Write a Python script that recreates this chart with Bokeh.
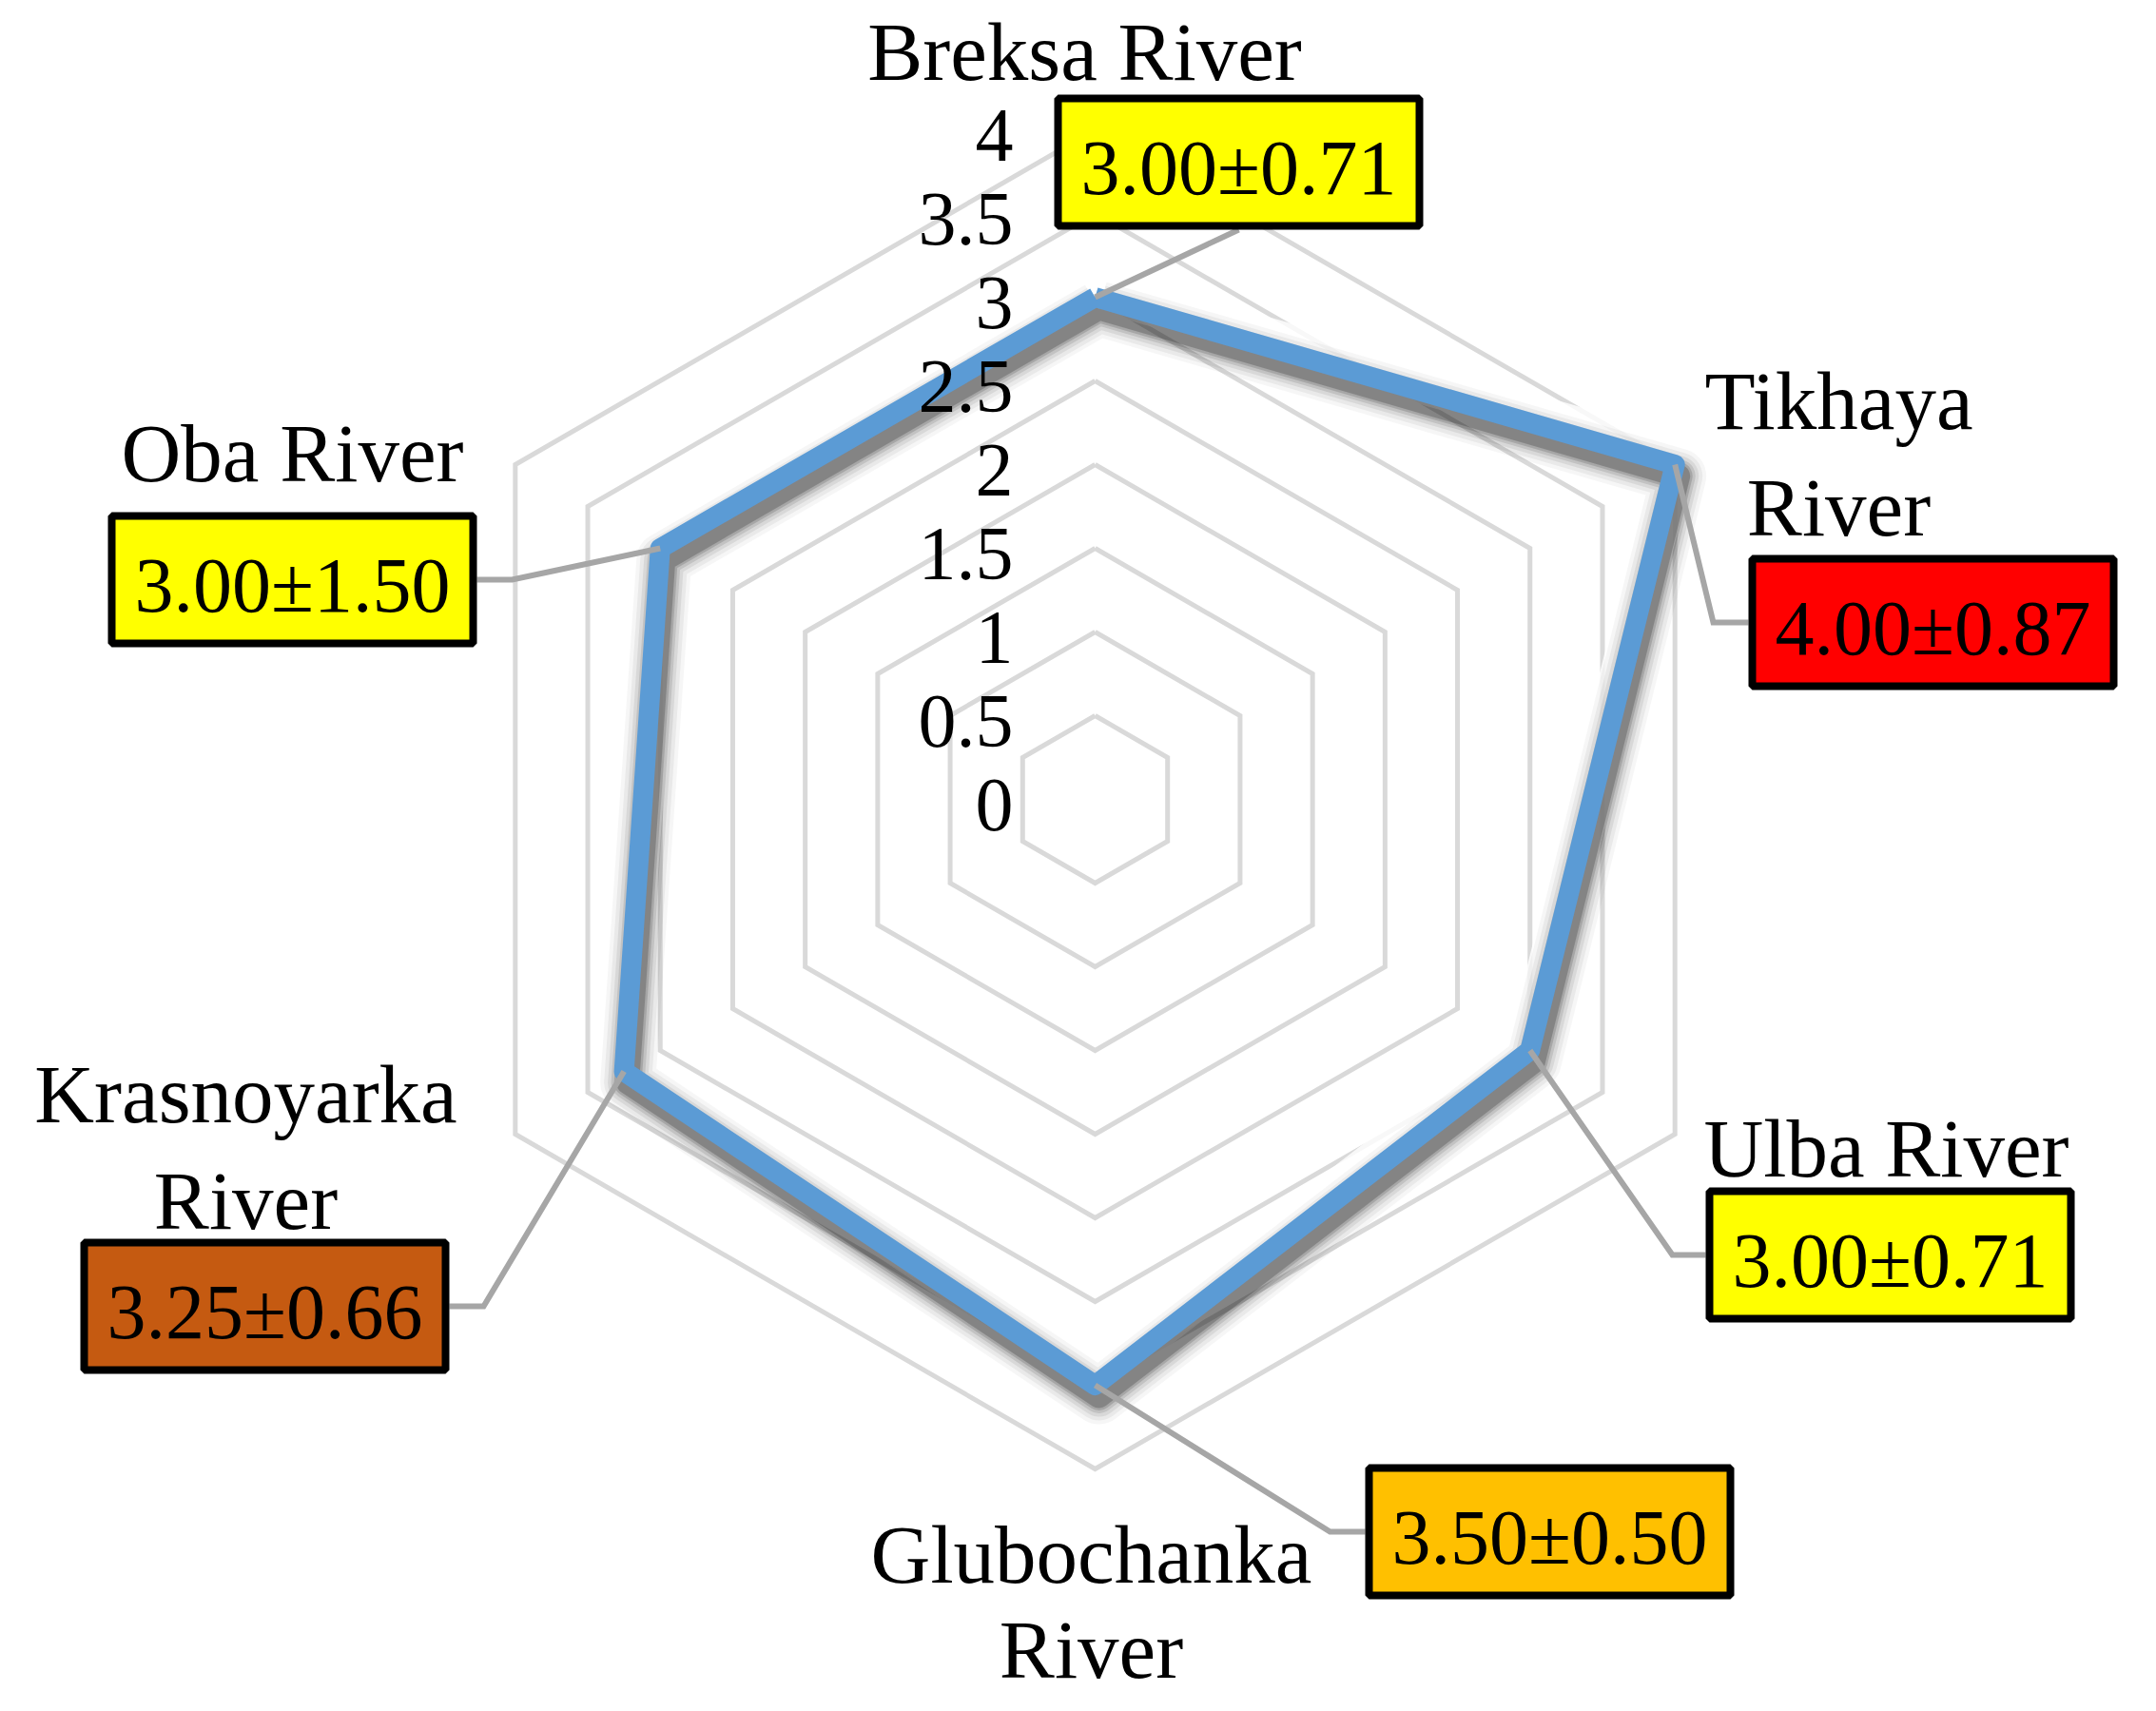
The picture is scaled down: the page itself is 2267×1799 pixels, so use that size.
import math
from bokeh.plotting import figure
from bokeh.models import Range1d
from bokeh.core.properties import value
from bokeh.embed import file_html
from bokeh.resources import INLINE

# ---------------- data ----------------
categories = ["Breksa River", "Tikhaya River", "Ulba River",
              "Glubochanka River", "Krasnoyarka River", "Oba River"]
means = [3.00, 4.00, 3.00, 3.50, 3.25, 3.00]
sds = [0.71, 0.87, 0.71, 0.50, 0.66, 1.50]
box_colors = ["#FFFF00", "#FF0000", "#FFFF00", "#FFC000", "#C55A11", "#FFFF00"]
tick_values = [0, 0.5, 1, 1.5, 2, 2.5, 3, 3.5, 4]
tick_labels = ["0", "0.5", "1", "1.5", "2", "2.5", "3", "3.5", "4"]

# ---------------- layout (screen pixels) ----------------
W, H = 2251, 1783
S = 176.0            # pixels per value unit
CX, CY = 1159, 848   # chart centre on the page
FONT = value("Liberation Serif")
SHIFT = -22          # correction of the renderer's baseline placement

def sx(X):
    return (X - CX) / S

def sy(Y):
    return (CY - Y) / S

layout = [
    dict(lx=1148, lb=84,   step=0,   wrap=False, box=(1310, 178),  bend=None),
    dict(lx=1941, lb=451,  step=112, wrap=True,  box=(2040, 662),  bend=(1809, 662)),
    dict(lx=1991, lb=1237, step=0,   wrap=False, box=(1995, 1327), bend=(1766, 1327)),
    dict(lx=1155, lb=1664, step=100, wrap=True,  box=(1637, 1618), bend=(1406, 1618)),
    dict(lx=266,  lb=1180, step=112, wrap=True,  box=(286, 1381),  bend=(516, 1381)),
    dict(lx=315,  lb=506,  step=0,   wrap=False, box=(315, 617),   bend=(546, 617)),
]
BOX_W, BOX_H, BORDER = 388, 142, 8

p = figure(width=W, height=H,
           x_range=Range1d(sx(8), sx(8 + W)),
           y_range=Range1d(sy(8 + H), sy(8)),
           output_backend="svg", toolbar_location=None, min_border=0,
           x_axis_type=None, y_axis_type=None)
p.grid.visible = False
p.outline_line_color = None
p.background_fill_color = "white"
p.border_fill_color = "white"

n = len(categories)
angles = [math.pi / 2 - 2 * math.pi * i / n for i in range(n)]

# grid hexagons
gx, gy = [], []
for r in tick_values[1:]:
    gx.append([r * math.cos(a) for a in angles + [angles[0]]])
    gy.append([r * math.sin(a) for a in angles + [angles[0]]])
p.multi_line(gx, gy, line_color="#D9D9D9", line_width=5, line_join="miter")

# series polygon
vx = [m * math.cos(a) for m, a in zip(means, angles)]
vy = [m * math.sin(a) for m, a in zip(means, angles)]
px = vx + [vx[0]]
py = vy + [vy[0]]

# soft glow + blurred drop shadow
p.line(px, [y + 9 / S for y in py], line_color="white", line_width=44,
       line_alpha=0.8, line_join="round")
for w, a in [(58, 0.035), (50, 0.05), (42, 0.07), (35, 0.10), (29, 0.14), (24, 0.2)]:
    p.line([x + 4 / S for x in px], [y - 12 / S for y in py], line_color="black",
           line_width=w, line_alpha=a, line_join="round")
p.line(px, py, line_color="#5B9BD5", line_width=21, line_join="round")

# leader lines
for i, L in enumerate(layout):
    bxc, byc = L["box"]
    if L["bend"] is None:
        xs = [vx[i], sx(bxc)]
        ys = [vy[i], sy(byc + BOX_H / 2)]
    else:
        bx, by = L["bend"]
        edge = bxc - BOX_W / 2 if bx < bxc else bxc + BOX_W / 2
        xs = [vx[i], sx(bx), sx(edge)]
        ys = [vy[i], sy(by), sy(by)]
    p.line(xs, ys, line_color="#A6A6A6", line_width=6, line_join="miter")

# tick labels
p.text(x=[sx(1073)] * len(tick_values), y=tick_values, text=tick_labels,
       text_font=FONT, text_font_size="80px", text_align="right",
       text_baseline="alphabetic", y_offset=28 + SHIFT, text_color="black")

# value boxes
p.rect(x=[sx(L["box"][0]) for L in layout], y=[sy(L["box"][1]) for L in layout],
       width=(BOX_W - BORDER) / S, height=(BOX_H - BORDER) / S,
       fill_color=box_colors, line_color="black", line_width=BORDER)
p.text(x=[sx(L["box"][0]) for L in layout], y=[sy(L["box"][1]) for L in layout],
       text=[f"{m:.2f}±{s:.2f}" for m, s in zip(means, sds)],
       text_font=FONT, text_font_size="82px", text_align="center",
       text_baseline="alphabetic", y_offset=28 + SHIFT, text_color="black")

# category labels
lx, ly, lt = [], [], []
for cat, L in zip(categories, layout):
    lines = cat.rsplit(" ", 1) if L["wrap"] else [cat]
    for k, t in enumerate(lines):
        lx.append(sx(L["lx"]))
        ly.append(sy(L["lb"] + k * L["step"]))
        lt.append(t)
p.text(x=lx, y=ly, text=lt, text_font=FONT, text_font_size="87px",
       text_align="center", text_baseline="alphabetic", y_offset=SHIFT,
       text_color="black")

open("out.html", "w").write(file_html(p, INLINE))
